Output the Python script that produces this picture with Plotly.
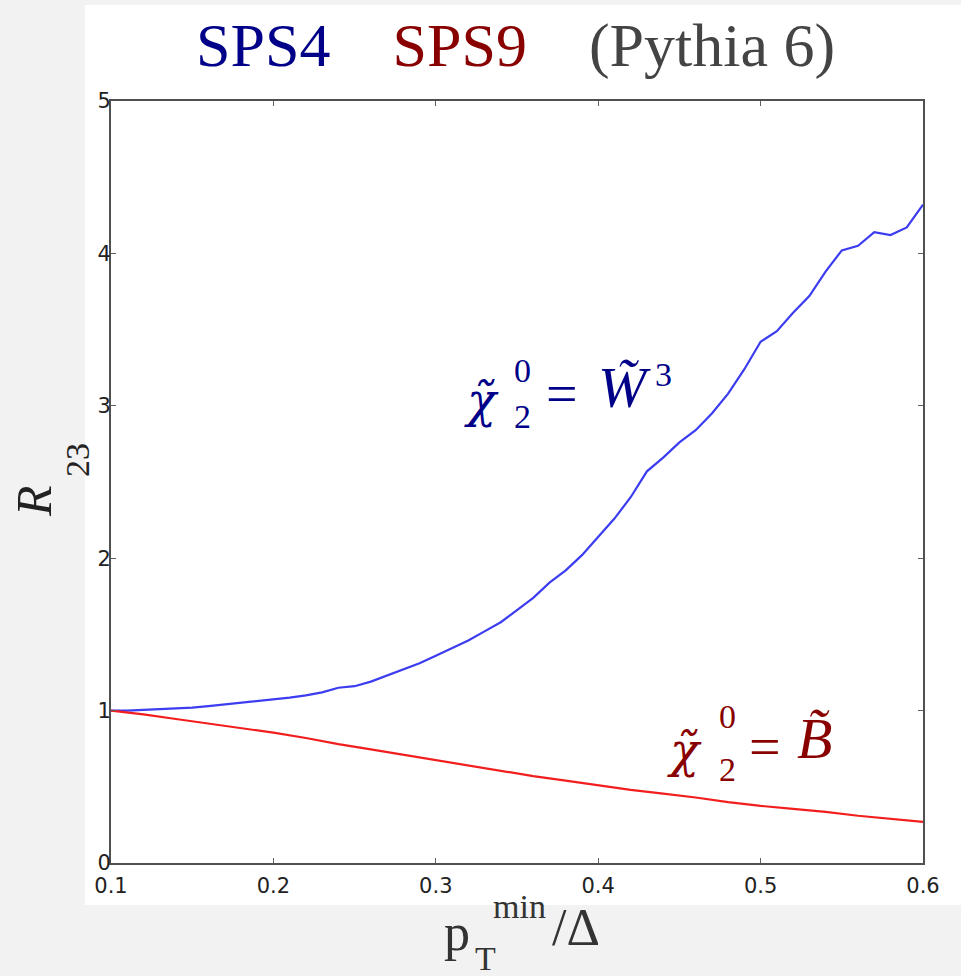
import plotly.graph_objects as go

# ---- data ----
x_sps4 = [0.10, 0.11, 0.12, 0.13, 0.14, 0.15, 0.16, 0.17, 0.18, 0.19,
          0.20, 0.21, 0.22, 0.23, 0.24, 0.25, 0.26, 0.27, 0.28, 0.29,
          0.30, 0.31, 0.32, 0.33, 0.34, 0.35, 0.36, 0.37, 0.38, 0.39,
          0.40, 0.41, 0.42, 0.43, 0.44, 0.45, 0.46, 0.47, 0.48, 0.49,
          0.50, 0.51, 0.52, 0.53, 0.54, 0.55, 0.56, 0.57, 0.58, 0.59, 0.60]
r_sps4 = [1.00, 1.00, 1.005, 1.01, 1.015, 1.02, 1.03, 1.04, 1.05, 1.06,
          1.07, 1.085, 1.10, 1.12, 1.15, 1.16, 1.19, 1.23, 1.27, 1.31,
          1.36, 1.41, 1.46, 1.52, 1.58, 1.66, 1.74, 1.84, 1.92, 2.02,
          2.14, 2.26, 2.40, 2.57, 2.66, 2.76, 2.84, 2.95, 3.08, 3.24,
          3.42, 3.49, 3.61, 3.72, 3.88, 4.02, 4.05, 4.14, 4.12, 4.17, 4.32]

x_sps9 = [0.10, 0.12, 0.14, 0.16, 0.18, 0.20, 0.22, 0.24, 0.26, 0.28,
          0.30, 0.32, 0.34, 0.36, 0.38, 0.40, 0.42, 0.44, 0.46, 0.48,
          0.50, 0.52, 0.54, 0.56, 0.58, 0.60]
r_sps9 = [1.00, 0.975, 0.945, 0.915, 0.885, 0.855, 0.82, 0.78, 0.745, 0.71,
          0.675, 0.64, 0.605, 0.57, 0.54, 0.51, 0.48, 0.455, 0.43, 0.40,
          0.375, 0.355, 0.335, 0.31, 0.29, 0.27]

x_ticks = [0.1, 0.2, 0.3, 0.4, 0.5, 0.6]
x_ticklabels = ["0.1", "0.2", "0.3", "0.4", "0.5", "0.6"]
y_ticks = [0, 1, 2, 3, 4, 5]
y_ticklabels = ["0", "1", "2", "3", "4", "5"]

# ---- layout geometry ----
W, H = 961, 976
L, R, T, B = 111, 923, 101, 863
BG = "#f2f2f2"


def px(xp):
    return (xp - L) / (R - L)


def py(yp):
    return (B - yp) / (B - T)


SERIF = "Liberation Serif, Times New Roman, serif"
DVS = "DejaVu Serif, serif"
NAVY = "#000088"
MAROON = "#880000"

fig = go.Figure()
fig.add_trace(go.Scatter(x=x_sps4, y=r_sps4, mode="lines",
                         line=dict(color="#3c3cf0", width=2.2), showlegend=False))
fig.add_trace(go.Scatter(x=x_sps9, y=r_sps9, mode="lines",
                         line=dict(color="#f21e1e", width=2.2), showlegend=False))

axis_common = dict(showline=True, linecolor="#505050", linewidth=2,
                   mirror="ticks", ticks="inside", ticklen=5, tickwidth=1,
                   tickcolor="#606060", showgrid=False, zeroline=False,
                   tickfont=dict(family="DejaVu Sans", size=21, color="#222222"))

fig.update_xaxes(range=[0.1, 0.6], tickvals=x_ticks, ticktext=x_ticklabels,
                 ticklabelstandoff=3, **axis_common)
fig.update_yaxes(range=[0, 5], tickvals=y_ticks, ticktext=y_ticklabels,
                 ticklabelstandoff=-6, **axis_common)

ann = []


def add(text, xp, yp, size, color, xanchor="center", yanchor="middle", angle=0,
        family=SERIF):
    ann.append(dict(text=text, x=px(xp), y=py(yp), xref="paper", yref="paper",
                    showarrow=False, xanchor=xanchor, yanchor=yanchor,
                    textangle=angle,
                    font=dict(family=family, size=size, color=color)))


# title
add("<span style='color:%s'>SPS4</span>&nbsp;&nbsp;&nbsp;&nbsp;"
    "<span style='color:%s'>SPS9</span>&nbsp;&nbsp;&nbsp;&nbsp;"
    "<span style='color:#444444'>(Pythia 6)</span>" % (NAVY, MAROON),
    515, 46, 62, NAVY)

# x axis title  p_T^min / Delta
add("p", 457, 932, 52, "#333333")
add("T", 485, 958, 34, "#333333")
add("min", 519, 906, 34, "#333333")
add("/Δ", 576, 928, 52, "#333333")

# y axis title  R_23
add("<i>R</i>", 34, 501, 50, "#222222", angle=-90)
add("23", 77, 460, 34, "#222222", angle=-90)

# blue label  chi~_2^0 = W~^3
add("<i>χ̃</i>", 481, 400, 48, NAVY, family=DVS)
add("0", 522, 370, 34, NAVY)
add("2", 522, 416, 34, NAVY)
add("=", 562, 394, 56, NAVY)
add("<i>W̃</i>", 624, 388, 58, NAVY)
add("3", 663, 374, 34, NAVY)

# red label  chi~_2^0 = B~
add("<i>χ̃</i>", 684, 750, 48, MAROON, family=DVS)
add("0", 727, 716, 34, MAROON)
add("2", 727, 769, 34, MAROON)
add("=", 765, 747, 56, MAROON)
add("<i>B̃</i>", 814, 738, 58, MAROON)

fig.update_layout(
    width=W, height=H,
    margin=dict(l=L, r=W - R, t=T, b=H - B, autoexpand=False),
    paper_bgcolor=BG, plot_bgcolor="white",
    annotations=ann,
    shapes=[dict(type="rect", xref="paper", yref="paper",
                 x0=px(85), x1=px(W + 5), y0=py(905), y1=py(5),
                 fillcolor="white", line=dict(width=0), layer="below")],
)

fig.write_html(
    "out.html",
    config={"displayModeBar": False},
    post_script="document.body.style.margin='0';"
                "document.body.style.background='%s';"
                "document.documentElement.style.overflow='hidden';" % BG,
)
